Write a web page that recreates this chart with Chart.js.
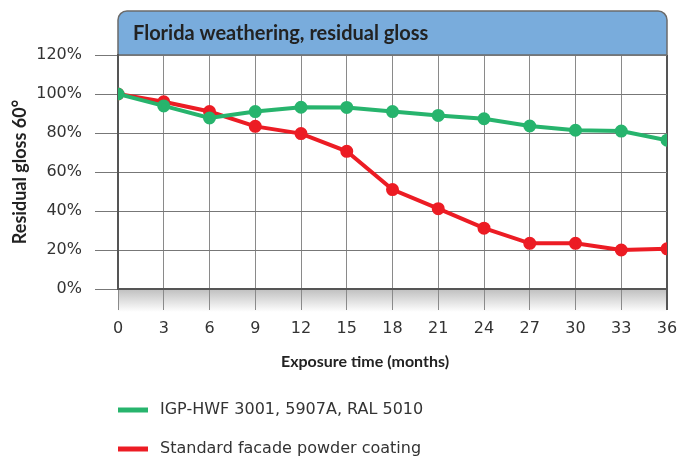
<!DOCTYPE html>
<html lang="en">
  <head>
    <meta charset="UTF-8" />
    <title>Florida weathering, residual gloss</title>
    <script src="https://cdn.jsdelivr.net/npm/chart.js"></script>
    <style>
      html, body { margin: 0; padding: 0; background: #fff; }
      .graph { position: relative; width: 679px; height: 459px; }
    </style>
  </head>
<body>
    <div class="graph">
        <canvas id="glossChart" width="679" height="459"></canvas>
    </div>

  <script>

    // data
    const months = [0, 3, 6, 9, 12, 15, 18, 21, 24, 27, 30, 33, 36];
    const glossIGP = [100, 93.9, 87.7, 91, 93.2, 93.1, 91, 89, 87.3, 83.6, 81.4, 81, 76.3];
    const glossStandard = [100, 96, 91, 83.4, 79.7, 70.6, 51, 41.2, 31.2, 23.4, 23.4, 20, 20.6];
    const seriesNames = ["IGP-HWF 3001, 5907A, RAL 5010", "Standard facade powder coating"];
    const chartTitle = "Florida weathering, residual gloss";
    const xTitle = "Exposure time (months)";
    const yTitle = "Residual gloss 60°";

    const FONT = "'DejaVu Sans', sans-serif";
    const BOLD_FONT = "'Lato', sans-serif";
    const GREEN = "#27b46d";
    const RED = "#ec1c24";

    function toPoints(values) {
        return months.map((m, i) => ({ x: m, y: values[i] }));
    }

    // title box, gray band under the axis, x title and the legend
    const decor = {
        id: "decor",
        beforeDraw(chart) {
            const ctx = chart.ctx;
            const a = chart.chartArea;
            ctx.save();
            // gradient band below 0%
            const g = ctx.createLinearGradient(0, a.bottom, 0, a.bottom + 23);
            g.addColorStop(0, "#bfbfbf");
            g.addColorStop(1, "#ffffff");
            ctx.fillStyle = g;
            ctx.fillRect(a.left, a.bottom, a.right - a.left, 23);

            // title box
            const top = 11, r = 9;
            ctx.beginPath();
            ctx.moveTo(a.left, a.top);
            ctx.lineTo(a.left, top + r);
            ctx.arcTo(a.left, top, a.left + r, top, r);
            ctx.lineTo(a.right - r, top);
            ctx.arcTo(a.right, top, a.right, top + r, r);
            ctx.lineTo(a.right, a.top);
            ctx.closePath();
            ctx.fillStyle = "#79acdc";
            ctx.fill();
            ctx.lineWidth = 1.5;
            ctx.strokeStyle = "#6b6b6b";
            ctx.stroke();
            ctx.fillStyle = "#222";
            ctx.font = "bold 20px " + BOLD_FONT;
            ctx.textBaseline = "middle";
            ctx.fillText(chartTitle, 133, 34);

            // x axis title
            ctx.font = "bold 16px " + BOLD_FONT;
            ctx.textAlign = "center";
            ctx.fillText(xTitle, 365, 362);
            ctx.restore();
        },
        afterDraw(chart) {
            const ctx = chart.ctx;
            const a = chart.chartArea;
            ctx.save();
            ctx.font = "16px " + FONT;
            ctx.textBaseline = "middle";
            chart.data.datasets.forEach((ds, i) => {
                const y = 410 + i * 39;
                ctx.strokeStyle = ds.borderColor;
                ctx.lineWidth = 5;
                ctx.beginPath();
                ctx.moveTo(a.left, y);
                ctx.lineTo(a.left + 30, y);
                ctx.stroke();
                ctx.fillStyle = "#333";
                ctx.fillText(ds.label, 160, y);
            });
            ctx.restore();
        }
    };

    const dataGloss = {
        datasets: [
            {
            label: seriesNames[0],
            data: toPoints(glossIGP),
            borderColor: GREEN,
            backgroundColor: GREEN,
            borderWidth: 4,
            pointRadius: 4.5,
            pointHoverRadius: 4.5,
            },
            {
            label: seriesNames[1],
            data: toPoints(glossStandard),
            borderColor: RED,
            backgroundColor: RED,
            borderWidth: 4,
            pointRadius: 4.5,
            pointHoverRadius: 4.5,
            },
        ],
    }

    const configGloss = {
        type: "line",
        data: dataGloss,
        plugins: [decor],
        options: {
            responsive: false,
            animation: false,
            maintainAspectRatio: false,
            layout: { padding: { top: 55, right: 12, bottom: 88, left: 0 } },
            plugins: { legend: { display: false }, tooltip: { enabled: false } },
            scales: {
                x: {
                    type: "linear",
                    min: 0,
                    max: 36,
                    afterFit: (s) => { s.height = 82; s.paddingLeft = 0; s.paddingRight = 0; },
                    ticks: { stepSize: 3, padding: 9, color: "#333", font: { family: FONT, size: 16 } },
                    grid: {
                        color: (c) => (c.index === 12 ? "#555" : "#8a8a8a"),
                        lineWidth: (c) => (c.index === 12 ? 2 : 1),
                        tickLength: 21,
                    },
                    border: { color: "#555", width: 2 },
                },
                y: {
                    min: 0,
                    max: 120,
                    afterFit: (s) => { s.width = 118; s.paddingTop = 0; s.paddingBottom = 0; },
                    ticks: {
                        stepSize: 20,
                        padding: 13,
                        color: "#333",
                        font: { family: FONT, size: 16 },
                        callback: (v) => v + "%",
                    },
                    grid: { color: "#777", lineWidth: 1, tickLength: 23 },
                    border: { color: "#555", width: 2 },
                    title: {
                        display: true,
                        text: yTitle,
                        color: "#222",
                        padding: { top: 9, bottom: 0 },
                        font: { family: BOLD_FONT, size: 18, weight: "bold" },
                    },
                },
            },
        },
    }

    var glossChart = new Chart(document.getElementById("glossChart"), configGloss);

  </script>
</body>
</html>
